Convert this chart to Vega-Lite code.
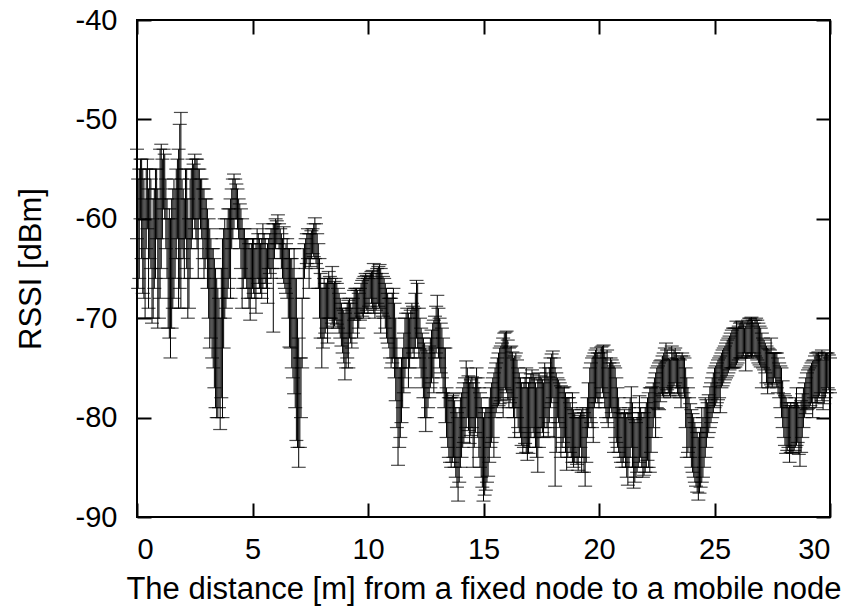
{
  "$schema": "https://vega.github.io/schema/vega-lite/v6.json",
  "width": 693,
  "height": 497,
  "autosize": "none",
  "padding": {"left": 137, "top": 20, "right": 28, "bottom": 96},
  "background": "white",
  "config": {
    "view": {"stroke": "black", "strokeWidth": 2},
    "axis": {
      "grid": false,
      "domain": false,
      "tickColor": "black",
      "tickWidth": 2,
      "tickSize": -14,
      "labelFont": "Liberation Sans",
      "labelFontSize": 29,
      "labelColor": "black",
      "labelExpr": "toString(datum.value)",
      "titleFont": "Liberation Sans",
      "titleFontSize": 31,
      "titleFontWeight": "normal",
      "titleColor": "black"
    }
  },
  "data": {"values": [
    {"d":0.0,"lo":-62,"hi":-53},{"d":0.1,"lo":-66,"hi":-55},{"d":0.2,"lo":-64,"hi":-54},{"d":0.3,"lo":-68,"hi":-56},{"d":0.4,"lo":-63,"hi":-55},
    {"d":0.5,"lo":-69,"hi":-57},{"d":0.6,"lo":-65,"hi":-56},{"d":0.7,"lo":-70,"hi":-58},{"d":0.8,"lo":-66,"hi":-55},{"d":0.9,"lo":-71,"hi":-57},
    {"d":1.0,"lo":-68,"hi":-53},{"d":1.1,"lo":-62,"hi":-54},{"d":1.2,"lo":-60,"hi":-53.5},{"d":1.3,"lo":-66,"hi":-58},{"d":1.4,"lo":-72,"hi":-59},
    {"d":1.5,"lo":-71,"hi":-58},{"d":1.6,"lo":-68,"hi":-56},{"d":1.7,"lo":-64,"hi":-55},{"d":1.8,"lo":-69,"hi":-53},{"d":1.9,"lo":-69,"hi":-49.3},
    {"d":2.0,"lo":-64,"hi":-57},{"d":2.1,"lo":-62,"hi":-55},{"d":2.2,"lo":-70,"hi":-58},{"d":2.3,"lo":-66,"hi":-56},{"d":2.4,"lo":-62,"hi":-54},
    {"d":2.5,"lo":-61,"hi":-53.5},{"d":2.6,"lo":-63,"hi":-54},{"d":2.7,"lo":-60,"hi":-55},{"d":2.8,"lo":-62,"hi":-56},{"d":2.9,"lo":-66,"hi":-57},
    {"d":3.0,"lo":-64,"hi":-58},{"d":3.1,"lo":-70,"hi":-60},{"d":3.2,"lo":-72,"hi":-62},{"d":3.3,"lo":-75,"hi":-63},{"d":3.4,"lo":-79,"hi":-65},
    {"d":3.5,"lo":-80,"hi":-67},{"d":3.6,"lo":-81.2,"hi":-70},{"d":3.7,"lo":-80,"hi":-62},{"d":3.8,"lo":-70,"hi":-60},{"d":3.9,"lo":-68,"hi":-60},
    {"d":4.0,"lo":-66,"hi":-59},{"d":4.1,"lo":-63,"hi":-57},{"d":4.2,"lo":-61,"hi":-55.5},{"d":4.3,"lo":-60,"hi":-56.5},{"d":4.4,"lo":-62,"hi":-58},
    {"d":4.5,"lo":-65,"hi":-59},{"d":4.6,"lo":-67,"hi":-61},{"d":4.7,"lo":-66,"hi":-62},{"d":4.8,"lo":-68,"hi":-62},{"d":4.9,"lo":-70.2,"hi":-63},
    {"d":5.0,"lo":-67,"hi":-62},{"d":5.1,"lo":-68,"hi":-63},{"d":5.2,"lo":-66,"hi":-61},{"d":5.3,"lo":-67,"hi":-62},{"d":5.4,"lo":-68,"hi":-62},
    {"d":5.5,"lo":-66,"hi":-61.5},{"d":5.6,"lo":-67,"hi":-63},{"d":5.7,"lo":-65,"hi":-62},{"d":5.8,"lo":-66,"hi":-61},{"d":5.9,"lo":-71.4,"hi":-60.5},
    {"d":6.0,"lo":-63,"hi":-60},{"d":6.1,"lo":-62.5,"hi":-59.6},{"d":6.2,"lo":-64,"hi":-61},{"d":6.3,"lo":-66,"hi":-62},{"d":6.4,"lo":-67,"hi":-63},
    {"d":6.5,"lo":-68,"hi":-62},{"d":6.6,"lo":-72.9,"hi":-63},{"d":6.7,"lo":-75,"hi":-64},{"d":6.8,"lo":-77.6,"hi":-63},{"d":6.9,"lo":-82.3,"hi":-66},
    {"d":7.0,"lo":-85,"hi":-72},{"d":7.1,"lo":-80,"hi":-74},{"d":7.2,"lo":-68,"hi":-63},{"d":7.3,"lo":-65,"hi":-62},{"d":7.4,"lo":-64,"hi":-61},
    {"d":7.5,"lo":-64.8,"hi":-61.5},{"d":7.6,"lo":-63.5,"hi":-61},{"d":7.7,"lo":-64,"hi":-59.9},{"d":7.8,"lo":-65,"hi":-61.5},{"d":7.9,"lo":-70,"hi":-64},
    {"d":8.0,"lo":-75,"hi":-67},{"d":8.1,"lo":-72,"hi":-66},{"d":8.2,"lo":-71,"hi":-66.5},{"d":8.3,"lo":-70,"hi":-65.3},{"d":8.4,"lo":-70,"hi":-66},
    {"d":8.5,"lo":-71,"hi":-66.5},{"d":8.6,"lo":-70.2,"hi":-66},{"d":8.7,"lo":-71,"hi":-67},{"d":8.8,"lo":-72,"hi":-68},{"d":8.9,"lo":-73.5,"hi":-69},
    {"d":9.0,"lo":-76.2,"hi":-69.5},{"d":9.1,"lo":-74,"hi":-68.5},{"d":9.2,"lo":-72,"hi":-68},{"d":9.3,"lo":-73,"hi":-69},{"d":9.4,"lo":-70.2,"hi":-67.2},
    {"d":9.5,"lo":-70,"hi":-67},{"d":9.6,"lo":-71,"hi":-67.5},{"d":9.7,"lo":-69.5,"hi":-66.5},{"d":9.8,"lo":-70,"hi":-66},{"d":9.9,"lo":-69,"hi":-65.5},
    {"d":10.0,"lo":-69.5,"hi":-66},{"d":10.1,"lo":-68,"hi":-65.5},{"d":10.2,"lo":-69,"hi":-65.2},{"d":10.3,"lo":-70,"hi":-66},{"d":10.4,"lo":-68.5,"hi":-65},
    {"d":10.5,"lo":-69,"hi":-64.6},{"d":10.6,"lo":-69.5,"hi":-65.5},{"d":10.7,"lo":-70,"hi":-66},{"d":10.8,"lo":-72,"hi":-67},{"d":10.9,"lo":-73,"hi":-68},
    {"d":11.0,"lo":-75,"hi":-68},{"d":11.1,"lo":-74,"hi":-67},{"d":11.2,"lo":-78.3,"hi":-70},{"d":11.3,"lo":-84.8,"hi":-74},{"d":11.4,"lo":-82,"hi":-75},
    {"d":11.5,"lo":-79,"hi":-73},{"d":11.6,"lo":-76,"hi":-70},{"d":11.7,"lo":-74,"hi":-69},{"d":11.8,"lo":-75,"hi":-70},{"d":11.9,"lo":-73,"hi":-68.5},
    {"d":12.0,"lo":-74,"hi":-69},{"d":12.1,"lo":-72,"hi":-66.2},{"d":12.2,"lo":-74,"hi":-69},{"d":12.3,"lo":-76,"hi":-71},{"d":12.4,"lo":-78,"hi":-72},
    {"d":12.5,"lo":-81.4,"hi":-73},{"d":12.6,"lo":-79,"hi":-73.5},{"d":12.7,"lo":-77,"hi":-72},{"d":12.8,"lo":-76,"hi":-70.5},{"d":12.9,"lo":-74,"hi":-69.8},
    {"d":13.0,"lo":-73,"hi":-67.7},{"d":13.1,"lo":-75,"hi":-70},{"d":13.2,"lo":-76,"hi":-71},{"d":13.3,"lo":-79,"hi":-73},{"d":13.4,"lo":-82,"hi":-77},
    {"d":13.5,"lo":-84,"hi":-78},{"d":13.6,"lo":-85,"hi":-78},{"d":13.7,"lo":-84,"hi":-77.6},{"d":13.8,"lo":-86,"hi":-79},{"d":13.9,"lo":-88.4,"hi":-80},
    {"d":14.0,"lo":-85,"hi":-78},{"d":14.1,"lo":-83,"hi":-77},{"d":14.2,"lo":-82,"hi":-76},{"d":14.3,"lo":-80,"hi":-75},{"d":14.4,"lo":-82.6,"hi":-76.5},
    {"d":14.5,"lo":-81,"hi":-75.9},{"d":14.6,"lo":-83,"hi":-77},{"d":14.7,"lo":-80,"hi":-75},{"d":14.8,"lo":-84,"hi":-77},{"d":14.9,"lo":-86,"hi":-78},
    {"d":15.0,"lo":-88.4,"hi":-80},{"d":15.1,"lo":-87.3,"hi":-79},{"d":15.2,"lo":-85.9,"hi":-79},{"d":15.3,"lo":-83,"hi":-77},{"d":15.4,"lo":-82,"hi":-76},
    {"d":15.5,"lo":-80,"hi":-75},{"d":15.6,"lo":-79,"hi":-74},{"d":15.7,"lo":-78.6,"hi":-73},{"d":15.8,"lo":-78,"hi":-72.5},{"d":15.9,"lo":-77,"hi":-71.5},
    {"d":16.0,"lo":-77.5,"hi":-71.3},{"d":16.1,"lo":-79,"hi":-73},{"d":16.2,"lo":-78,"hi":-72.8},{"d":16.3,"lo":-80,"hi":-74},{"d":16.4,"lo":-79,"hi":-73.5},
    {"d":16.5,"lo":-81,"hi":-75},{"d":16.6,"lo":-82,"hi":-76},{"d":16.7,"lo":-83.6,"hi":-77},{"d":16.8,"lo":-82.6,"hi":-76},{"d":16.9,"lo":-84.3,"hi":-77},
    {"d":17.0,"lo":-83,"hi":-76},{"d":17.1,"lo":-81,"hi":-75.2},{"d":17.2,"lo":-82,"hi":-76},{"d":17.3,"lo":-84,"hi":-77},{"d":17.4,"lo":-83,"hi":-75.5},
    {"d":17.5,"lo":-81,"hi":-76},{"d":17.6,"lo":-82,"hi":-76.5},{"d":17.7,"lo":-80,"hi":-75},{"d":17.8,"lo":-81.9,"hi":-75.9},{"d":17.9,"lo":-79,"hi":-74},
    {"d":18.0,"lo":-78,"hi":-73.3},{"d":18.1,"lo":-86.9,"hi":-75},{"d":18.2,"lo":-80,"hi":-76},{"d":18.3,"lo":-81,"hi":-76.5},{"d":18.4,"lo":-83,"hi":-77},
    {"d":18.5,"lo":-82,"hi":-76.9},{"d":18.6,"lo":-85.3,"hi":-78},{"d":18.7,"lo":-83,"hi":-78},{"d":18.8,"lo":-84,"hi":-79},{"d":18.9,"lo":-85,"hi":-79.2},
    {"d":19.0,"lo":-84,"hi":-80},{"d":19.1,"lo":-85.3,"hi":-80},{"d":19.2,"lo":-83,"hi":-79.5},{"d":19.3,"lo":-84,"hi":-79},{"d":19.4,"lo":-86.9,"hi":-80},
    {"d":19.5,"lo":-82,"hi":-78},{"d":19.6,"lo":-80,"hi":-75},{"d":19.7,"lo":-81,"hi":-74},{"d":19.8,"lo":-79,"hi":-73.5},{"d":19.9,"lo":-78,"hi":-73},
    {"d":20.0,"lo":-79,"hi":-74},{"d":20.1,"lo":-77,"hi":-72.9},{"d":20.2,"lo":-78,"hi":-72.7},{"d":20.3,"lo":-80,"hi":-74},{"d":20.4,"lo":-81,"hi":-75},
    {"d":20.5,"lo":-79,"hi":-74},{"d":20.6,"lo":-80,"hi":-74.5},{"d":20.7,"lo":-82,"hi":-75},{"d":20.8,"lo":-83,"hi":-77},{"d":20.9,"lo":-84,"hi":-79},
    {"d":21.0,"lo":-85,"hi":-80},{"d":21.1,"lo":-84,"hi":-79.2},{"d":21.2,"lo":-86,"hi":-80},{"d":21.3,"lo":-85,"hi":-79},{"d":21.4,"lo":-83,"hi":-76.9},
    {"d":21.5,"lo":-87.1,"hi":-80},{"d":21.6,"lo":-86,"hi":-80.5},{"d":21.7,"lo":-85,"hi":-79.5},{"d":21.8,"lo":-84,"hi":-79},{"d":21.9,"lo":-86,"hi":-80},
    {"d":22.0,"lo":-85.5,"hi":-79},{"d":22.1,"lo":-84.3,"hi":-78},{"d":22.2,"lo":-85.5,"hi":-77},{"d":22.3,"lo":-82,"hi":-76.9},{"d":22.4,"lo":-80,"hi":-76},
    {"d":22.5,"lo":-79,"hi":-75},{"d":22.6,"lo":-79.2,"hi":-74.5},{"d":22.7,"lo":-77.6,"hi":-74.2},{"d":22.8,"lo":-78,"hi":-73.5},{"d":22.9,"lo":-77,"hi":-72.5},
    {"d":23.0,"lo":-77.5,"hi":-74},{"d":23.1,"lo":-78,"hi":-74.2},{"d":23.2,"lo":-77,"hi":-73.5},{"d":23.3,"lo":-76.5,"hi":-73},{"d":23.4,"lo":-77.6,"hi":-74},
    {"d":23.5,"lo":-78,"hi":-74.2},{"d":23.6,"lo":-77,"hi":-73.5},{"d":23.7,"lo":-78,"hi":-74},{"d":23.8,"lo":-84,"hi":-76},{"d":23.9,"lo":-83,"hi":-78},
    {"d":24.0,"lo":-85,"hi":-79.2},{"d":24.1,"lo":-86,"hi":-80},{"d":24.2,"lo":-86.9,"hi":-81},{"d":24.3,"lo":-88.3,"hi":-82},{"d":24.4,"lo":-87,"hi":-81},
    {"d":24.5,"lo":-86,"hi":-80},{"d":24.6,"lo":-84,"hi":-78},{"d":24.7,"lo":-82,"hi":-78.5},{"d":24.8,"lo":-81,"hi":-76.9},{"d":24.9,"lo":-80,"hi":-76},
    {"d":25.0,"lo":-79,"hi":-75},{"d":25.1,"lo":-78.5,"hi":-74.5},{"d":25.2,"lo":-78,"hi":-74},{"d":25.3,"lo":-77,"hi":-73.5},{"d":25.4,"lo":-76.5,"hi":-73},
    {"d":25.5,"lo":-76,"hi":-72.5},{"d":25.6,"lo":-75.5,"hi":-72},{"d":25.7,"lo":-75,"hi":-71.5},{"d":25.8,"lo":-75,"hi":-71},{"d":25.9,"lo":-74.9,"hi":-71},
    {"d":26.0,"lo":-74.5,"hi":-71},{"d":26.1,"lo":-74,"hi":-70.5},{"d":26.2,"lo":-74,"hi":-70.3},{"d":26.3,"lo":-73.5,"hi":-71},{"d":26.4,"lo":-74,"hi":-70.5},
    {"d":26.5,"lo":-73.5,"hi":-70},{"d":26.6,"lo":-74,"hi":-69.9},{"d":26.7,"lo":-73.5,"hi":-70.5},{"d":26.8,"lo":-74,"hi":-70},{"d":26.9,"lo":-74.5,"hi":-70.5},
    {"d":27.0,"lo":-74.9,"hi":-71},{"d":27.1,"lo":-75,"hi":-72},{"d":27.2,"lo":-75.5,"hi":-72.5},{"d":27.3,"lo":-77.6,"hi":-73},{"d":27.4,"lo":-76.5,"hi":-73.2},
    {"d":27.5,"lo":-76.9,"hi":-73.5},{"d":27.6,"lo":-76,"hi":-73.5},{"d":27.7,"lo":-77,"hi":-73.5},{"d":27.8,"lo":-78,"hi":-74.5},{"d":27.9,"lo":-80,"hi":-75},
    {"d":28.0,"lo":-82,"hi":-77.6},{"d":28.1,"lo":-83.6,"hi":-78},{"d":28.2,"lo":-83,"hi":-79},{"d":28.3,"lo":-83.5,"hi":-78.5},{"d":28.4,"lo":-83.6,"hi":-79},
    {"d":28.5,"lo":-83,"hi":-78},{"d":28.6,"lo":-82.5,"hi":-78.5},{"d":28.7,"lo":-84.9,"hi":-79},{"d":28.8,"lo":-82,"hi":-77.6},{"d":28.9,"lo":-80,"hi":-76.5},
    {"d":29.0,"lo":-79.2,"hi":-75.5},{"d":29.1,"lo":-79,"hi":-75},{"d":29.2,"lo":-78.5,"hi":-74.5},{"d":29.3,"lo":-78,"hi":-74.2},{"d":29.4,"lo":-79,"hi":-73.5},
    {"d":29.5,"lo":-78,"hi":-73.4},{"d":29.6,"lo":-77.5,"hi":-74},{"d":29.7,"lo":-79.2,"hi":-74.2},{"d":29.8,"lo":-78,"hi":-73.5},{"d":29.9,"lo":-77,"hi":-73.5},
    {"d":30.0,"lo":-77.5,"hi":-74},
    {"d":0.05,"lo":-67,"hi":-56},{"d":0.15,"lo":-60,"hi":-54},{"d":0.25,"lo":-67.5,"hi":-55},{"d":0.35,"lo":-70,"hi":-58},{"d":0.45,"lo":-61,"hi":-54},
    {"d":0.55,"lo":-64,"hi":-55},{"d":0.65,"lo":-70.5,"hi":-60},{"d":0.75,"lo":-67,"hi":-57},{"d":0.85,"lo":-62,"hi":-55},{"d":0.95,"lo":-70,"hi":-58},
    {"d":1.05,"lo":-65,"hi":-52.5},{"d":1.15,"lo":-59,"hi":-53},{"d":1.25,"lo":-63,"hi":-56},{"d":1.35,"lo":-71,"hi":-60},{"d":1.45,"lo":-74,"hi":-60},
    {"d":1.55,"lo":-69,"hi":-57},{"d":1.65,"lo":-66,"hi":-57},{"d":1.75,"lo":-62,"hi":-54},{"d":1.85,"lo":-67,"hi":-50.5},{"d":1.95,"lo":-63,"hi":-56},
    {"d":2.05,"lo":-66,"hi":-58},{"d":2.15,"lo":-65,"hi":-55},{"d":2.25,"lo":-69,"hi":-60},{"d":2.35,"lo":-63,"hi":-55},{"d":2.45,"lo":-60,"hi":-54.5},
    {"d":2.55,"lo":-62,"hi":-54},{"d":2.65,"lo":-66,"hi":-55},{"d":2.75,"lo":-61,"hi":-56},{"d":2.85,"lo":-64,"hi":-57},{"d":2.95,"lo":-65,"hi":-58},
    {"d":3.05,"lo":-67,"hi":-59},{"d":3.15,"lo":-73,"hi":-61},{"d":3.25,"lo":-74,"hi":-63},{"d":3.35,"lo":-77,"hi":-64},{"d":3.45,"lo":-80,"hi":-66},
    {"d":3.55,"lo":-79,"hi":-68},{"d":3.65,"lo":-78,"hi":-65},{"d":3.75,"lo":-73,"hi":-61},{"d":3.85,"lo":-69,"hi":-61},{"d":3.95,"lo":-67,"hi":-59},
    {"d":4.05,"lo":-68,"hi":-58},{"d":4.15,"lo":-62,"hi":-56},{"d":4.25,"lo":-60,"hi":-56},{"d":4.35,"lo":-61,"hi":-57},{"d":4.45,"lo":-63,"hi":-58.5},
    {"d":4.55,"lo":-69,"hi":-60},{"d":4.65,"lo":-66,"hi":-61},{"d":4.75,"lo":-67,"hi":-62},{"d":4.85,"lo":-69,"hi":-62.5},{"d":4.95,"lo":-68,"hi":-62.5},
    {"d":5.05,"lo":-67.5,"hi":-62},{"d":5.15,"lo":-69.5,"hi":-62.5},{"d":5.25,"lo":-66.5,"hi":-61.5},{"d":5.35,"lo":-67.5,"hi":-62.5},{"d":5.45,"lo":-67,"hi":-60.5},
    {"d":5.55,"lo":-66.5,"hi":-62},{"d":5.65,"lo":-68.5,"hi":-62.5},{"d":5.75,"lo":-65.5,"hi":-61.5},{"d":5.85,"lo":-65,"hi":-61},{"d":5.95,"lo":-64,"hi":-60.5},
    {"d":6.05,"lo":-62.5,"hi":-60.2},{"d":6.15,"lo":-63,"hi":-60.5},{"d":6.25,"lo":-65,"hi":-61.5},{"d":6.35,"lo":-66.5,"hi":-60.8},{"d":6.45,"lo":-67.5,"hi":-62.5},
    {"d":6.55,"lo":-70,"hi":-63},{"d":6.65,"lo":-73,"hi":-64},{"d":6.75,"lo":-76,"hi":-65},{"d":6.85,"lo":-79,"hi":-66},{"d":6.95,"lo":-83,"hi":-70},
    {"d":7.05,"lo":-83,"hi":-74},{"d":7.15,"lo":-75,"hi":-68},{"d":7.25,"lo":-66,"hi":-62.5},{"d":7.35,"lo":-64.5,"hi":-61.5},{"d":7.45,"lo":-67,"hi":-61.5},
    {"d":7.55,"lo":-64,"hi":-61.2},{"d":7.65,"lo":-63.8,"hi":-60.5},{"d":7.75,"lo":-64.5,"hi":-60.5},{"d":7.85,"lo":-67,"hi":-62.5},{"d":7.95,"lo":-72,"hi":-65.5},
    {"d":8.05,"lo":-73,"hi":-67},{"d":8.15,"lo":-71.5,"hi":-66.5},{"d":8.25,"lo":-72.5,"hi":-66},{"d":8.35,"lo":-70,"hi":-65.8},{"d":8.45,"lo":-70.5,"hi":-64.8},
    {"d":8.55,"lo":-70.8,"hi":-66.3},{"d":8.65,"lo":-70.6,"hi":-66.5},{"d":8.75,"lo":-71.5,"hi":-67.5},{"d":8.85,"lo":-72.8,"hi":-68.5},{"d":8.95,"lo":-74.5,"hi":-69.2},
    {"d":9.05,"lo":-75,"hi":-69},{"d":9.15,"lo":-75,"hi":-68.2},{"d":9.25,"lo":-72.5,"hi":-68.5},{"d":9.35,"lo":-71.5,"hi":-68},{"d":9.45,"lo":-70,"hi":-67},
    {"d":9.55,"lo":-72,"hi":-67.2},{"d":9.65,"lo":-70.2,"hi":-67},{"d":9.75,"lo":-69.8,"hi":-66.2},{"d":9.85,"lo":-69.5,"hi":-65.8},{"d":9.95,"lo":-69.2,"hi":-65.7},
    {"d":10.05,"lo":-68.8,"hi":-65.8},{"d":10.15,"lo":-68.5,"hi":-65.3},{"d":10.25,"lo":-69.5,"hi":-64.5},{"d":10.35,"lo":-69.2,"hi":-65.5},{"d":10.45,"lo":-68.8,"hi":-64.8},
    {"d":10.55,"lo":-71.5,"hi":-65},{"d":10.65,"lo":-69.8,"hi":-65.8},{"d":10.75,"lo":-71,"hi":-66.5},{"d":10.85,"lo":-72.5,"hi":-67.5},{"d":10.95,"lo":-74,"hi":-68},
    {"d":11.05,"lo":-74.5,"hi":-67.5},{"d":11.15,"lo":-76,"hi":-68.5},{"d":11.25,"lo":-81,"hi":-72},{"d":11.35,"lo":-83,"hi":-75},{"d":11.45,"lo":-80.5,"hi":-74},
    {"d":11.55,"lo":-77.5,"hi":-71.5},{"d":11.65,"lo":-75,"hi":-69.5},{"d":11.75,"lo":-77,"hi":-69.5},{"d":11.85,"lo":-74,"hi":-69.2},{"d":11.95,"lo":-73.5,"hi":-68.8},
    {"d":12.05,"lo":-73,"hi":-67.5},{"d":12.15,"lo":-73,"hi":-66.5},{"d":12.25,"lo":-75,"hi":-70},{"d":12.35,"lo":-77,"hi":-71.5},{"d":12.45,"lo":-80,"hi":-72.5},
    {"d":12.55,"lo":-80,"hi":-73.2},{"d":12.65,"lo":-78,"hi":-72.8},{"d":12.75,"lo":-76.5,"hi":-71.2},{"d":12.85,"lo":-77.5,"hi":-70.2},{"d":12.95,"lo":-73.5,"hi":-68.8},
    {"d":13.05,"lo":-74,"hi":-69},{"d":13.15,"lo":-75.5,"hi":-70.5},{"d":13.25,"lo":-77.5,"hi":-72},{"d":13.35,"lo":-80.5,"hi":-73},{"d":13.45,"lo":-83,"hi":-77.5},
    {"d":13.55,"lo":-84.5,"hi":-78},{"d":13.65,"lo":-84.5,"hi":-77.8},{"d":13.75,"lo":-85,"hi":-78.3},{"d":13.85,"lo":-87,"hi":-79.5},{"d":13.95,"lo":-86.5,"hi":-79},
    {"d":14.05,"lo":-84,"hi":-77.5},{"d":14.15,"lo":-82.5,"hi":-76.5},{"d":14.25,"lo":-81,"hi":-74.3},{"d":14.35,"lo":-81.3,"hi":-75.8},{"d":14.45,"lo":-81.8,"hi":-76.2},
    {"d":14.55,"lo":-85,"hi":-76.5},{"d":14.65,"lo":-81.5,"hi":-76},{"d":14.75,"lo":-82,"hi":-76},{"d":14.85,"lo":-85,"hi":-77.5},{"d":14.95,"lo":-87,"hi":-79},
    {"d":15.05,"lo":-87.8,"hi":-79.5},{"d":15.15,"lo":-86.5,"hi":-79},{"d":15.25,"lo":-84.5,"hi":-78},{"d":15.35,"lo":-82.5,"hi":-76.5},{"d":15.45,"lo":-84,"hi":-75.5},
    {"d":15.55,"lo":-79.5,"hi":-74.5},{"d":15.65,"lo":-78.8,"hi":-73.5},{"d":15.75,"lo":-78.3,"hi":-72.8},{"d":15.85,"lo":-80,"hi":-72},{"d":15.95,"lo":-77.2,"hi":-71.4},
    {"d":16.05,"lo":-78.2,"hi":-72.2},{"d":16.15,"lo":-78.5,"hi":-72.9},{"d":16.25,"lo":-79,"hi":-73.4},{"d":16.35,"lo":-82,"hi":-73.8},{"d":16.45,"lo":-80,"hi":-74.2},
    {"d":16.55,"lo":-81.5,"hi":-75.5},{"d":16.65,"lo":-82.8,"hi":-76.5},{"d":16.75,"lo":-83,"hi":-76.5},{"d":16.85,"lo":-83.5,"hi":-75},{"d":16.95,"lo":-83.6,"hi":-76.5},
    {"d":17.05,"lo":-82,"hi":-75.6},{"d":17.15,"lo":-81.5,"hi":-75.6},{"d":17.25,"lo":-83,"hi":-76.5},{"d":17.35,"lo":-85.5,"hi":-76.2},{"d":17.45,"lo":-82,"hi":-75.8},
    {"d":17.55,"lo":-81.5,"hi":-76.2},{"d":17.65,"lo":-81,"hi":-74.5},{"d":17.75,"lo":-81,"hi":-75.5},{"d":17.85,"lo":-80.5,"hi":-75},{"d":17.95,"lo":-78.5,"hi":-73.6},
    {"d":18.05,"lo":-82,"hi":-74},{"d":18.15,"lo":-83.5,"hi":-75.5},{"d":18.25,"lo":-80.5,"hi":-76.2},{"d":18.35,"lo":-84,"hi":-76.8},{"d":18.45,"lo":-82.5,"hi":-77},
    {"d":18.55,"lo":-83.5,"hi":-77.5},{"d":18.65,"lo":-84,"hi":-78},{"d":18.75,"lo":-83.5,"hi":-78.5},{"d":18.85,"lo":-84.5,"hi":-77.5},{"d":18.95,"lo":-84.5,"hi":-79.6},
    {"d":19.05,"lo":-84.7,"hi":-80},{"d":19.15,"lo":-84,"hi":-79.8},{"d":19.25,"lo":-85.5,"hi":-79.2},{"d":19.35,"lo":-85.5,"hi":-79.5},{"d":19.45,"lo":-84.5,"hi":-79},
    {"d":19.55,"lo":-81,"hi":-76.5},{"d":19.65,"lo":-80.5,"hi":-74.5},{"d":19.75,"lo":-82.5,"hi":-73.8},{"d":19.85,"lo":-78.5,"hi":-73.2},{"d":19.95,"lo":-78.5,"hi":-73.5},
    {"d":20.05,"lo":-78,"hi":-73.5},{"d":20.15,"lo":-77.5,"hi":-72.8},{"d":20.25,"lo":-79,"hi":-73.4},{"d":20.35,"lo":-80.5,"hi":-73.2},{"d":20.45,"lo":-80,"hi":-74.5},
    {"d":20.55,"lo":-79.5,"hi":-74.2},{"d":20.65,"lo":-83.5,"hi":-74.8},{"d":20.75,"lo":-82.5,"hi":-76},{"d":20.85,"lo":-83.5,"hi":-78},{"d":20.95,"lo":-84.5,"hi":-79.5},
    {"d":21.05,"lo":-84.5,"hi":-79.6},{"d":21.15,"lo":-85,"hi":-79.6},{"d":21.25,"lo":-86.8,"hi":-79.5},{"d":21.35,"lo":-84,"hi":-78},{"d":21.45,"lo":-85,"hi":-78.5},
    {"d":21.55,"lo":-86.5,"hi":-80.2},{"d":21.65,"lo":-85.5,"hi":-80},{"d":21.75,"lo":-84.5,"hi":-77.8},{"d":21.85,"lo":-85,"hi":-79.5},{"d":21.95,"lo":-85.8,"hi":-79.5},
    {"d":22.05,"lo":-85,"hi":-78.5},{"d":22.15,"lo":-85,"hi":-77.5},{"d":22.25,"lo":-83.5,"hi":-77},{"d":22.35,"lo":-81,"hi":-76.5},{"d":22.45,"lo":-82,"hi":-75.5},
    {"d":22.55,"lo":-79.1,"hi":-74.8},{"d":22.65,"lo":-78.4,"hi":-74.3},{"d":22.75,"lo":-77.8,"hi":-73.8},{"d":22.85,"lo":-77.5,"hi":-73},{"d":22.95,"lo":-77.2,"hi":-73.2},
    {"d":23.05,"lo":-77.8,"hi":-74.1},{"d":23.15,"lo":-77.5,"hi":-72.8},{"d":23.25,"lo":-76.8,"hi":-73.2},{"d":23.35,"lo":-77,"hi":-73.5},{"d":23.45,"lo":-77.8,"hi":-74.1},
    {"d":23.55,"lo":-79,"hi":-73.8},{"d":23.65,"lo":-77.5,"hi":-73.8},{"d":23.75,"lo":-81,"hi":-75},{"d":23.85,"lo":-83.5,"hi":-77},{"d":23.95,"lo":-84,"hi":-78.6},
    {"d":24.05,"lo":-85.5,"hi":-79.6},{"d":24.15,"lo":-86.5,"hi":-80.5},{"d":24.25,"lo":-87.5,"hi":-81.5},{"d":24.35,"lo":-87.6,"hi":-81.5},{"d":24.45,"lo":-86.5,"hi":-79},
    {"d":24.55,"lo":-85,"hi":-79},{"d":24.65,"lo":-83,"hi":-78.2},{"d":24.75,"lo":-81.5,"hi":-77.7},{"d":24.85,"lo":-80.5,"hi":-76.5},{"d":24.95,"lo":-79.5,"hi":-75.5},
    {"d":25.05,"lo":-78.8,"hi":-74.8},{"d":25.15,"lo":-78.2,"hi":-74.2},{"d":25.25,"lo":-79.5,"hi":-73.8},{"d":25.35,"lo":-76.8,"hi":-73.2},{"d":25.45,"lo":-76.2,"hi":-72.8},
    {"d":25.55,"lo":-75.8,"hi":-72.2},{"d":25.65,"lo":-75.2,"hi":-71.8},{"d":25.75,"lo":-75,"hi":-71.2},{"d":25.85,"lo":-75,"hi":-71},{"d":25.95,"lo":-74.7,"hi":-70.3},
    {"d":26.05,"lo":-74.2,"hi":-70.8},{"d":26.15,"lo":-74,"hi":-70.4},{"d":26.25,"lo":-73.8,"hi":-70.6},{"d":26.35,"lo":-75.3,"hi":-70.8},{"d":26.45,"lo":-73.8,"hi":-70.2},
    {"d":26.55,"lo":-73.8,"hi":-70},{"d":26.65,"lo":-73.8,"hi":-70.2},{"d":26.75,"lo":-73.8,"hi":-70.2},{"d":26.85,"lo":-74.2,"hi":-70.2},{"d":26.95,"lo":-74.7,"hi":-70.8},
    {"d":27.05,"lo":-77,"hi":-71.5},{"d":27.15,"lo":-75.2,"hi":-72.2},{"d":27.25,"lo":-76.5,"hi":-72.8},{"d":27.35,"lo":-77,"hi":-73.1},{"d":27.45,"lo":-76.7,"hi":-72},
    {"d":27.55,"lo":-76.5,"hi":-73.5},{"d":27.65,"lo":-76.5,"hi":-73.5},{"d":27.75,"lo":-77.5,"hi":-74},{"d":27.85,"lo":-79,"hi":-74.8},{"d":27.95,"lo":-81,"hi":-76.3},
    {"d":28.05,"lo":-82.8,"hi":-77.8},{"d":28.15,"lo":-83.3,"hi":-78.5},{"d":28.25,"lo":-84.5,"hi":-78.8},{"d":28.35,"lo":-83.5,"hi":-78.8},{"d":28.45,"lo":-83.3,"hi":-78.5},
    {"d":28.55,"lo":-82.8,"hi":-77},{"d":28.65,"lo":-83.7,"hi":-78.8},{"d":28.75,"lo":-83.5,"hi":-78.3},{"d":28.85,"lo":-81,"hi":-77},{"d":28.95,"lo":-79.6,"hi":-76},
    {"d":29.05,"lo":-79.1,"hi":-75.2},{"d":29.15,"lo":-78.8,"hi":-74.8},{"d":29.25,"lo":-80,"hi":-74.3},{"d":29.35,"lo":-78.5,"hi":-73.8},{"d":29.45,"lo":-78.5,"hi":-73.5},
    {"d":29.55,"lo":-77.8,"hi":-73.7},{"d":29.65,"lo":-78.3,"hi":-73.2},{"d":29.75,"lo":-78.6,"hi":-73.8},{"d":29.85,"lo":-77.5,"hi":-73.5},{"d":29.95,"lo":-77.2,"hi":-73.7}
  ]},
  "resolve": {"axis": {"x": "independent", "y": "independent"}},
  "layer": [
    {
      "mark": {"type": "rule", "color": "black", "strokeWidth": 1},
      "encoding": {
        "x": {"field": "d", "type": "quantitative",
              "scale": {"domain": [0, 30], "nice": false, "zero": false},
              "axis": {"orient": "bottom", "values": [0,5,10,15,20,25,30], "labelPadding": 32, "title": "The distance [m] from a fixed node to a mobile node", "titlePadding": 10}},
        "y": {"field": "lo", "type": "quantitative",
              "scale": {"domain": [-90, -40], "nice": false, "zero": false},
              "axis": {"orient": "left", "values": [-90,-80,-70,-60,-50,-40], "labelPadding": 34, "title": "RSSI [dBm]", "titlePadding": 28}},
        "y2": {"field": "hi"}
      }
    },
    {
      "mark": {"type": "tick", "orient": "horizontal", "color": "black", "size": 14, "thickness": 1.2},
      "encoding": {
        "x": {"field": "d", "type": "quantitative", "axis": {"orient": "top", "values": [0,5,10,15,20,25,30], "labels": false, "title": null}},
        "y": {"field": "lo", "type": "quantitative", "axis": {"orient": "right", "values": [-90,-80,-70,-60,-50,-40], "labels": false, "title": null}}
      }
    },
    {
      "mark": {"type": "tick", "orient": "horizontal", "color": "black", "size": 14, "thickness": 1.2},
      "encoding": {
        "x": {"field": "d", "type": "quantitative", "axis": null},
        "y": {"field": "hi", "type": "quantitative", "axis": null}
      }
    }
  ]
}
